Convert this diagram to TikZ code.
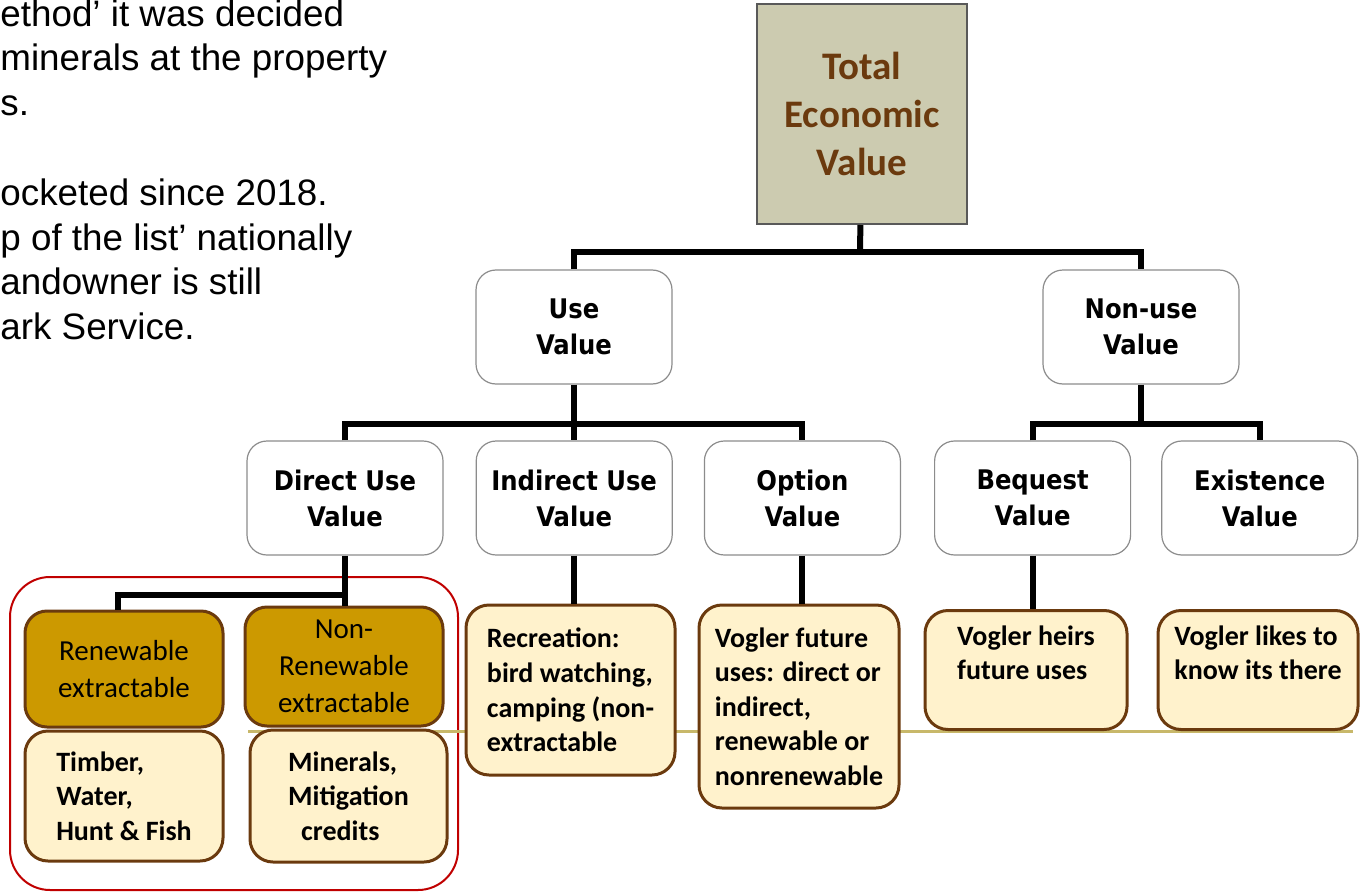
\documentclass[tikz,border=0pt]{standalone}
\usepackage{fontspec}
\setmainfont{Liberation Sans}
\newfontfamily\carlito{Carlito}
\newfontfamily\dejavu{DejaVu Sans Condensed}
\usetikzlibrary{positioning}

\definecolor{tevfill}{HTML}{CCCBB0}
\definecolor{tevtext}{HTML}{6B3A0E}
\definecolor{boxbrown}{HTML}{6B3A0E}
\definecolor{extgold}{HTML}{CC9900}
\definecolor{itemcream}{HTML}{FFF2CC}
\definecolor{framered}{HTML}{C00000}
\definecolor{rulekhaki}{HTML}{C8B86A}

\begin{document}
\begin{tikzpicture}[x=0.5pt, y=-0.5pt,
    tree/.style={line width=3pt},
    tev/.style={draw=black!65, line width=1pt, fill=tevfill, text=tevtext,
        minimum width=105pt, minimum height=110pt, align=center,
        font=\carlito\bfseries\fontsize{19.5}{24}\selectfont},
    valbox/.style={draw=black!45, line width=0.6pt, rounded corners=10pt, fill=white,
        minimum width=98pt, minimum height=57pt, align=center,
        font=\dejavu\bfseries\fontsize{13.5}{18}\selectfont},
    extbox/.style={draw=boxbrown, line width=1.5pt, rounded corners=11pt, fill=extgold,
        minimum width=99pt, minimum height=58pt, inner sep=2pt, align=center,
        font=\carlito\fontsize{14.5}{18.5}\selectfont},
    itembox/.style={draw=boxbrown, line width=1.5pt, rounded corners=11.5pt, fill=itemcream,
        align=left, font=\carlito\bfseries\fontsize{14}{17.3}\selectfont},
]
\useasboundingbox (0,0) rectangle (1369,893);

% slide text, cut at the left edge
\node[anchor=north west, inner sep=0pt, align=left,
    font=\fontsize{18.4}{22.4}\selectfont] (notes) at (0,-1)
    {ethod’ it was decided\\minerals at the property\\s.\\[22.4pt]ocketed since 2018.\\p of the list’ nationally\\andowner is still\\ark Service.};

% frame and rule behind the boxes
\draw[framered, line width=1pt, rounded corners=20pt] (10,577) rectangle (458,890);
\draw[rulekhaki, line width=1.5pt] (248,731) -- (1353,731);

\node[tev] (tev) at (862,114) {Total\\Economic\\Value};
\node[valbox] (use) at (574,327) {Use\\Value};
\node[valbox] (nonuse) at (1141,327) {Non-use\\Value};

\node[valbox] (direct) at (345,498) {Direct Use\\Value};
\node[valbox, right=16pt of direct] (indirect) {Indirect Use\\Value};
\node[valbox, right=15.5pt of indirect] (option) {Option\\Value};
\node[valbox, right=16.5pt of option] (bequest) {Bequest\\Value};
\node[valbox, right=15pt of bequest] (existence) {Existence\\Value};

\node[extbox] (renew) at (124,669) {Renewable\\extractable};
\node[extbox, minimum height=59.5pt] (nonrenew) at (344,666.5) {Non-\\Renewable\\extractable};
\node[itembox, minimum width=99pt, minimum height=65pt] (timber) at (124,796) {Timber,\\Water,\\Hunt \& Fish};
\node[itembox, minimum width=98.5pt, minimum height=66pt] (minerals) at (348.5,796) {Minerals,\\Mitigation\\\hspace{6.5pt}credits};
\node[itembox, minimum width=104.5pt, minimum height=85pt] (recreation) at (570.5,690) {Recreation:\\bird watching,\\camping (non-\\extractable};
\node[itembox, minimum width=100pt, minimum height=101.5pt] (future) at (799,706.5) {Vogler future\\uses: direct or\\indirect,\\renewable or\\nonrenewable};
\node[itembox, minimum width=101pt, minimum height=59.5pt] (heirs) at (1026,670) {Vogler heirs\\future uses\\\mbox{}};
\node[itembox, minimum width=100pt, minimum height=59.5pt] (likes) at (1258,670) {Vogler likes to\\know its there\\\mbox{}};

% tree
\coordinate (j1) at (860,252);
\coordinate (j2) at (574,424);
\coordinate (j3) at (1141,424);
\coordinate (j4) at (345,595);
\draw[tree] (tev) -- (j1);
\draw[tree] (use) |- (j1) -| (nonuse);
\draw[tree] (use) -- (j2);
\draw[tree] (direct) |- (j2) -| (option);
\draw[tree] (j2) -- (j2 |- indirect.north);
\draw[tree] (nonuse) -- (j3);
\draw[tree] (bequest) |- (j3) -| (existence);
\draw[tree] (direct.south) -- (direct.south |- nonrenew.north);
\draw[tree] ([xshift=-3pt]renew.north) |- (j4);
\draw[tree] (indirect.south) -- (indirect.south |- recreation.north);
\draw[tree] (option.south) -- (option.south |- future.north);
\draw[tree] (bequest.south) -- (bequest.south |- heirs.north);
\end{tikzpicture}
\end{document}
